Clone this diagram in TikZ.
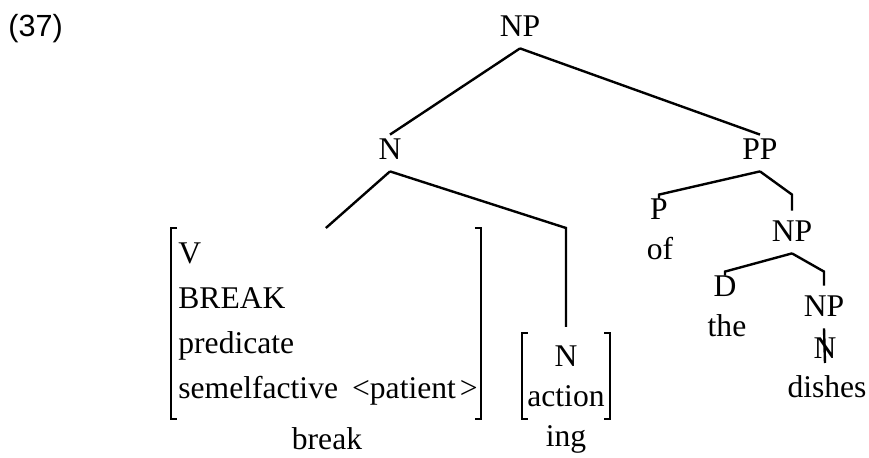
\documentclass[tikz,border=0pt]{standalone}
\usepackage{fontspec}
\setmainfont{Liberation Serif}
\newfontfamily\exnumfont{Liberation Sans}
\usepackage{tikz}
\usetikzlibrary{calc}
\definecolor{ink}{HTML}{000000}
\tikzset{
  edge/.style={draw=ink, line width=1.2pt},
  brk/.style={draw=ink, line width=1.2pt},
  cat/.style={anchor=base, inner xsep=0pt, inner ysep=2pt, text height=10.5pt, text depth=3.5pt, text=ink, font=\fontsize{15.8}{19}\selectfont},
  word/.style={anchor=base, inner sep=0pt, text=ink, font=\fontsize{15.8}{19}\selectfont},
  feat/.style={align=left, inner xsep=3.5pt, inner ysep=7pt, text=ink, font=\fontsize{15.8}{22.5}\selectfont},
}
\begin{document}
\begin{tikzpicture}[x=0.5pt, y=-0.5pt]
  \useasboundingbox (0,0) rectangle (869,458);
  % example number
  \node[anchor=base west, inner sep=0pt, text=ink, font=\exnumfont\fontsize{15.3}{18}\selectfont] (ex) at (8,37) {(37)};
  % categories
  \node[cat] (np)  at (520,37)  {NP};
  \node[cat] (n)   at (390,160) {N};
  \node[cat] (pp)  at (760,160) {PP};
  \node[cat] (p)   at (659,220) {P};
  \node[cat] (np2) at (792,242) {NP};
  \node[cat] (d)   at (725,297) {D};
  \node[cat] (np3) at (824,317) {NP};
  \node[cat] (nn)  at (825,359) {N};
  % feature boxes
  \node[feat, anchor=north west, text width=147.5pt] (vbox) at (171,228)
    {V\\BREAK\\predicate\\\mbox{semelfactive\hspace{7pt}<patient\kern2pt>}};
  \node[feat, align=center, inner xsep=2.5pt, inner ysep=6pt, font=\fontsize{15.8}{20}\selectfont, anchor=north] (nbox) at (566,333)
    {N\\action};
  \draw[brk] ([xshift=3pt]vbox.north west) -- (vbox.north west) -- (vbox.south west) -- ([xshift=3pt]vbox.south west);
  \draw[brk] ([xshift=-3pt]vbox.north east) -- (vbox.north east) -- (vbox.south east) -- ([xshift=-3pt]vbox.south east);
  \draw[brk] ([xshift=3pt]nbox.north west) -- (nbox.north west) -- (nbox.south west) -- ([xshift=3pt]nbox.south west);
  \draw[brk] ([xshift=-3pt]nbox.north east) -- (nbox.north east) -- (nbox.south east) -- ([xshift=-3pt]nbox.south east);
  % words
  \node[word] (brkw) at (327,450) {break};
  \node[word] (ing)  at (566,447) {ing};
  \node[word] (of)   at (660,260) {of};
  \node[word] (the)  at (727,337) {the};
  \node[word] (dish) at (827,398) {dishes};
  % branches
  \draw[edge] (np.south) -- (n.north);
  \draw[edge] (np.south) -- (pp.north);
  \draw[edge] (n.south) -- (vbox.north);
  \draw[edge] (n.south) -- (nbox.north |- vbox.north) -- ([yshift=3pt]nbox.north);
  \draw[edge] (pp.south) -- (p.north) -- ++(0,4);
  \draw[edge] (pp.south) -- (np2.north |- p.north) -- ([yshift=3pt]np2.north);
  \draw[edge] (np2.south) -- (d.north) -- ++(0,4);
  \draw[edge] (np2.south) -- (np3.north |- d.north) -- ([yshift=3pt]np3.north);
  \draw[edge] (np3.south) -- ([yshift=-2pt]nn.base);
\end{tikzpicture}
\end{document}
